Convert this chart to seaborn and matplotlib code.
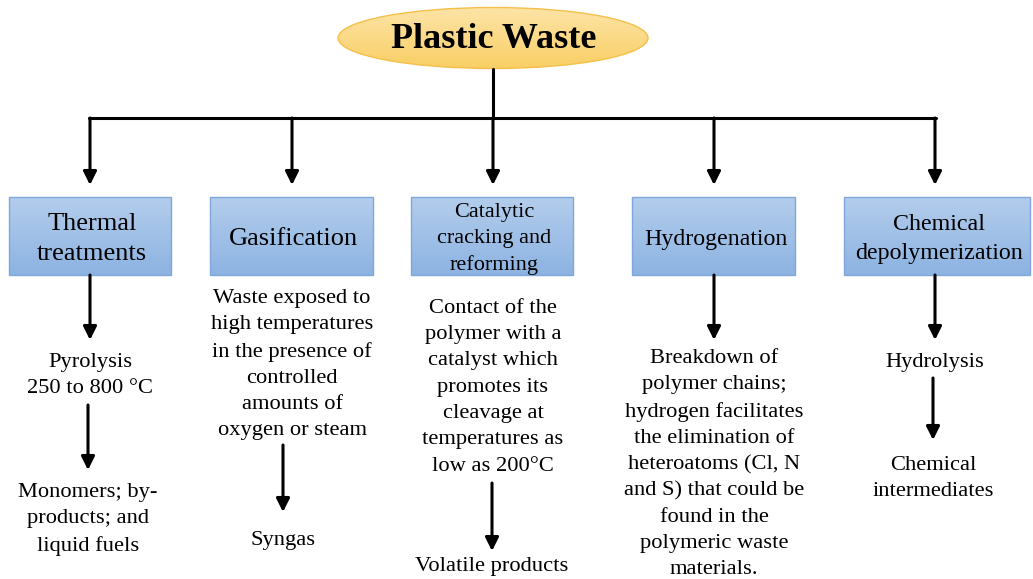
import numpy as np
import seaborn as sns
import matplotlib.pyplot as plt
from matplotlib.patches import Rectangle, Ellipse
from matplotlib.colors import LinearSegmentedColormap

sns.set_style("white")
plt.rcParams['font.family'] = ['Liberation Serif', 'DejaVu Serif']
plt.rcParams['text.color'] = 'black'

# texts of the chart
root = "Plastic Waste"
methods = ["Thermal\ntreatments", "Gasification", "Catalytic\ncracking and\nreforming",
           "Hydrogenation", "Chemical\ndepolymerization"]
details = ["Pyrolysis\n250 to 800 °C",
           "Waste exposed to\nhigh temperatures\nin the presence of\ncontrolled\namounts of\noxygen or steam",
           "Contact of the\npolymer with a\ncatalyst which\npromotes its\ncleavage at\ntemperatures as\nlow as 200°C",
           "Breakdown of\npolymer chains;\nhydrogen facilitates\nthe elimination of\nheteroatoms (Cl, N\nand S) that could be\nfound in the\npolymeric waste\nmaterials.",
           "Hydrolysis"]
products = ["Monomers; by-\nproducts; and\nliquid fuels", "Syngas", "Volatile products",
            None, "Chemical\nintermediates"]

# layout (pixels)
col_x = [90, 292, 493, 714, 935]
box_x = [(9, 171), (210, 373), (411, 573), (632, 795), (844, 1030)]
box_y = (197, 275)
box_fs = [19, 19, 16, 17.2, 17.3]
box_gap = [30, 30, 26.5, 30, 30]
first_line = [362, 296, 305, 356, 362]
detail_gap = [27.4, 27.4, 27.4, 27.0, 27.4]
arrow2 = [(405, 470), (445, 512), (483, 551), None, (378, 440)]
arrow2_x = [88, 283, 492, None, 933]
prod_first = [492, 540, 567, None, 465]
line_gap = 27.4

fig = plt.figure(figsize=(10.33, 5.79), dpi=100)
ax = fig.add_axes([0, 0, 1, 1])


def grad_patch(patch, extent, c_top, c_bot):
    cmap = LinearSegmentedColormap.from_list('g', [c_top, c_bot])
    grad = np.linspace(0, 1, 100)[:, None]
    ax.add_patch(patch)
    im = ax.imshow(grad, cmap=cmap, extent=extent, aspect='auto', zorder=1)
    im.set_clip_path(patch)


def arrow(x, y0, y1):
    ax.annotate('', xy=(x, y1), xytext=(x, y0),
                arrowprops=dict(arrowstyle='-|>', color='black', lw=2.2,
                                mutation_scale=20, shrinkA=0, shrinkB=0))


def block(x, y_first, s, fs, gap):
    n = s.count('\n')
    # matplotlib spacing unit is ~0.8 * font size in px for this font
    ls = gap / (fs * 100 / 72 * 0.8)
    ax.text(x, y_first + n * gap / 2, s, ha='center', va='center', fontsize=fs,
            linespacing=ls, zorder=3)


# root ellipse
ell = Ellipse((493, 38), 310, 61, fc='none', ec='#F4C04A', lw=1, zorder=2)
grad_patch(ell, (338, 648, 69, 8), '#FDE4A6', '#F9CF65')
ax.text(494, 40, root, ha='center', va='center', fontsize=26, fontweight='bold', zorder=3)

# connectors
ax.plot([493, 493], [69, 118], color='black', lw=2.2)
ax.plot([col_x[0] - 1, col_x[-1] + 1], [118, 118], color='black', lw=2.2)
for x in col_x:
    arrow(x, 118, 185)

for i, x in enumerate(col_x):
    x0, x1 = box_x[i]
    rect = Rectangle((x0, box_y[0]), x1 - x0, box_y[1] - box_y[0], fc='none',
                     ec='#7FA7D9', lw=1, zorder=2)
    grad_patch(rect, (x0, x1, box_y[1], box_y[0]), '#B3CDEC', '#8DB3E2')
    n = methods[i].count('\n')
    block((x0 + x1) / 2 + 2, 239 - n * box_gap[i] / 2, methods[i], box_fs[i], box_gap[i])

    if i not in (1, 2):
        arrow(x, 275, 340)
    block(x, first_line[i], details[i], 16.2, detail_gap[i])
    if products[i] is not None:
        arrow(arrow2_x[i], arrow2[i][0], arrow2[i][1])
        block(arrow2_x[i], prod_first[i], products[i], 16.2, line_gap)

ax.set_xlim(0, 1033)
ax.set_ylim(579, 0)
ax.axis('off')
fig.savefig('out.png', dpi=100)
